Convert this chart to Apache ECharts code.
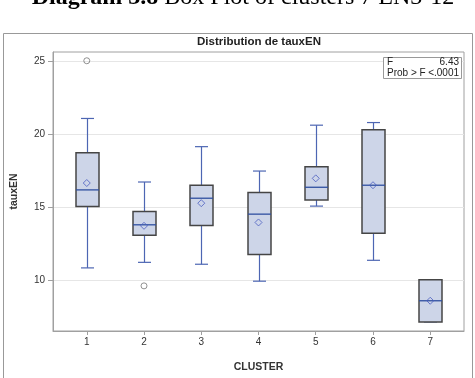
<!DOCTYPE html>
<html><head><meta charset="utf-8">
<script src="https://cdn.jsdelivr.net/npm/echarts@6/dist/echarts.min.js"></script>
<style>html,body{margin:0;padding:0;background:#fff}#c{width:475px;height:378px}</style>
</head><body><div id="c"></div>
<script>
const clusters = [1, 2, 3, 4, 5, 6, 7];
const whiskerLow  = [10.82, 11.20, 11.07,  9.91, 15.05, 11.34,  7.12];
const q1          = [15.02, 13.05, 13.73, 11.73, 15.47, 13.20,  7.12];
const median      = [16.16, 13.77, 15.59, 14.50, 16.34, 16.48,  8.57];
const q3          = [18.70, 14.68, 16.48, 15.98, 17.75, 20.27, 10.00];
const whiskerHigh = [21.05, 16.70, 19.12, 17.45, 20.59, 20.77, 10.00];
const means       = [16.63, 13.70, 15.25, 13.93, 16.95, 16.48,  8.57];
const outlierX = [1, 2];
const outlierY = [25.0, 9.59];
const yTicks = [10, 15, 20, 25];
const fStat = '6.43';
const probF = '<.0001';

const boxData = clusters.map((c, i) => [c, whiskerLow[i], q1[i], median[i], q3[i], whiskerHigh[i]]);
const meanData = clusters.map((c, i) => [c, means[i]]);
const outData = outlierX.map((c, i) => [c, outlierY[i]]);

const WHISK = '#4d66b3', MED = '#2f4fa0';
function renderBox(params, api) {
  const x = api.value(0);
  const lo = api.coord([x, api.value(1)]);
  const b1 = api.coord([x, api.value(2)]);
  const md = api.coord([x, api.value(3)]);
  const b3 = api.coord([x, api.value(4)]);
  const hi = api.coord([x, api.value(5)]);
  const cx = Math.round(lo[0]) + 0.5;
  const hw = 11.5, cw = 6.5;
  const ws = {stroke: WHISK, lineWidth: 1.2};
  return {type: 'group', children: [
    {type: 'line', shape: {x1: cx, y1: hi[1], x2: cx, y2: b3[1]}, style: ws},
    {type: 'line', shape: {x1: cx, y1: b1[1], x2: cx, y2: lo[1]}, style: ws},
    {type: 'line', shape: {x1: cx - cw, y1: hi[1], x2: cx + cw, y2: hi[1]}, style: ws},
    {type: 'line', shape: {x1: cx - cw, y1: lo[1], x2: cx + cw, y2: lo[1]}, style: ws},
    {type: 'rect', shape: {x: cx - hw, y: b3[1], width: 2 * hw, height: b1[1] - b3[1]},
      style: {fill: '#cdd5e8', stroke: '#454545', lineWidth: 1.5}},
    {type: 'line', shape: {x1: cx - hw, y1: md[1], x2: cx + hw, y2: md[1]}, style: {stroke: MED, lineWidth: 1.3}}
  ]};
}

const chart = echarts.init(document.getElementById('c'));
chart.setOption({
  animation: false,
  backgroundColor: '#fff',
  textStyle: {fontFamily: 'Liberation Sans'},
  grid: {left: 53, top: 52, right: 11, bottom: 46, show: true, borderColor: '#a0a0a0', borderWidth: 1, backgroundColor: '#fff'},
  xAxis: {
    type: 'value', min: 0.41, max: 7.59,
    name: 'CLUSTER', nameLocation: 'middle', nameGap: 31,
    nameTextStyle: {fontWeight: 'bold', fontSize: 10.5, color: '#333'},
    axisLine: {show: true, lineStyle: {color: '#a0a0a0'}},
    axisTick: {show: true, length: 4, customValues: clusters, lineStyle: {color: '#a0a0a0'}},
    axisLabel: {customValues: clusters, color: '#333', fontSize: 10, margin: 6},
    splitLine: {show: false}
  },
  yAxis: {
    type: 'value', min: 6.5, max: 25.6,
    name: 'tauxEN', nameLocation: 'middle', nameGap: 33,
    nameTextStyle: {fontWeight: 'bold', fontSize: 10.5, color: '#333'},
    axisLine: {show: true, lineStyle: {color: '#a0a0a0'}},
    axisTick: {show: true, length: 5, customValues: yTicks, lineStyle: {color: '#a0a0a0'}},
    axisLabel: {customValues: yTicks, color: '#333', fontSize: 10, margin: 8},
    splitLine: {show: true, lineStyle: {color: '#e6e6e6'}}
  },
  series: [
    {type: 'custom', renderItem: renderBox, data: boxData, encode: {x: 0, y: [1, 2, 3, 4, 5]}, z: 3},
    {type: 'scatter', data: meanData, symbol: 'diamond', symbolSize: 7,
      itemStyle: {color: 'rgba(0,0,0,0)', borderColor: '#4a5cc0', borderWidth: 1}, z: 4},
    {type: 'scatter', data: outData, symbol: 'circle', symbolSize: 6,
      itemStyle: {color: 'rgba(0,0,0,0)', borderColor: '#777', borderWidth: 1}, z: 4}
  ],
  graphic: [
    {type: 'rect', shape: {x: 3.5, y: 33.5, width: 469, height: 360}, style: {fill: 'none', stroke: '#999', lineWidth: 1}, z: 0, silent: true},
    {type: 'text', x: 243, y: -2, z: 10, style: {
      text: '{b|Diagram 3.8} Box Plot of clusters 7 EN3-12', align: 'center', verticalAlign: 'middle',
      font: '24px "Liberation Serif"', fill: '#000',
      rich: {b: {fontWeight: 'bold', fontSize: 24, fontFamily: 'Liberation Serif'}}}},
    {type: 'text', x: 259, y: 42, z: 10, style: {text: 'Distribution de tauxEN', align: 'center', verticalAlign: 'middle',
      font: 'bold 11.5px "Liberation Sans"', fill: '#222'}},
    {type: 'rect', shape: {x: 383.5, y: 57.5, width: 78, height: 21}, style: {fill: '#fff', stroke: '#999', lineWidth: 1}, z: 10},
    {type: 'text', x: 387, y: 62.5, z: 11, style: {text: 'F', align: 'left', verticalAlign: 'middle', font: '10px "Liberation Sans"', fill: '#222'}},
    {type: 'text', x: 459, y: 62.5, z: 11, style: {text: fStat, align: 'right', verticalAlign: 'middle', font: '10px "Liberation Sans"', fill: '#222'}},
    {type: 'text', x: 387, y: 73.5, z: 11, style: {text: 'Prob > F', align: 'left', verticalAlign: 'middle', font: '10px "Liberation Sans"', fill: '#222'}},
    {type: 'text', x: 459, y: 73.5, z: 11, style: {text: probF, align: 'right', verticalAlign: 'middle', font: '10px "Liberation Sans"', fill: '#222'}}
  ]
});
</script>
</body></html>
